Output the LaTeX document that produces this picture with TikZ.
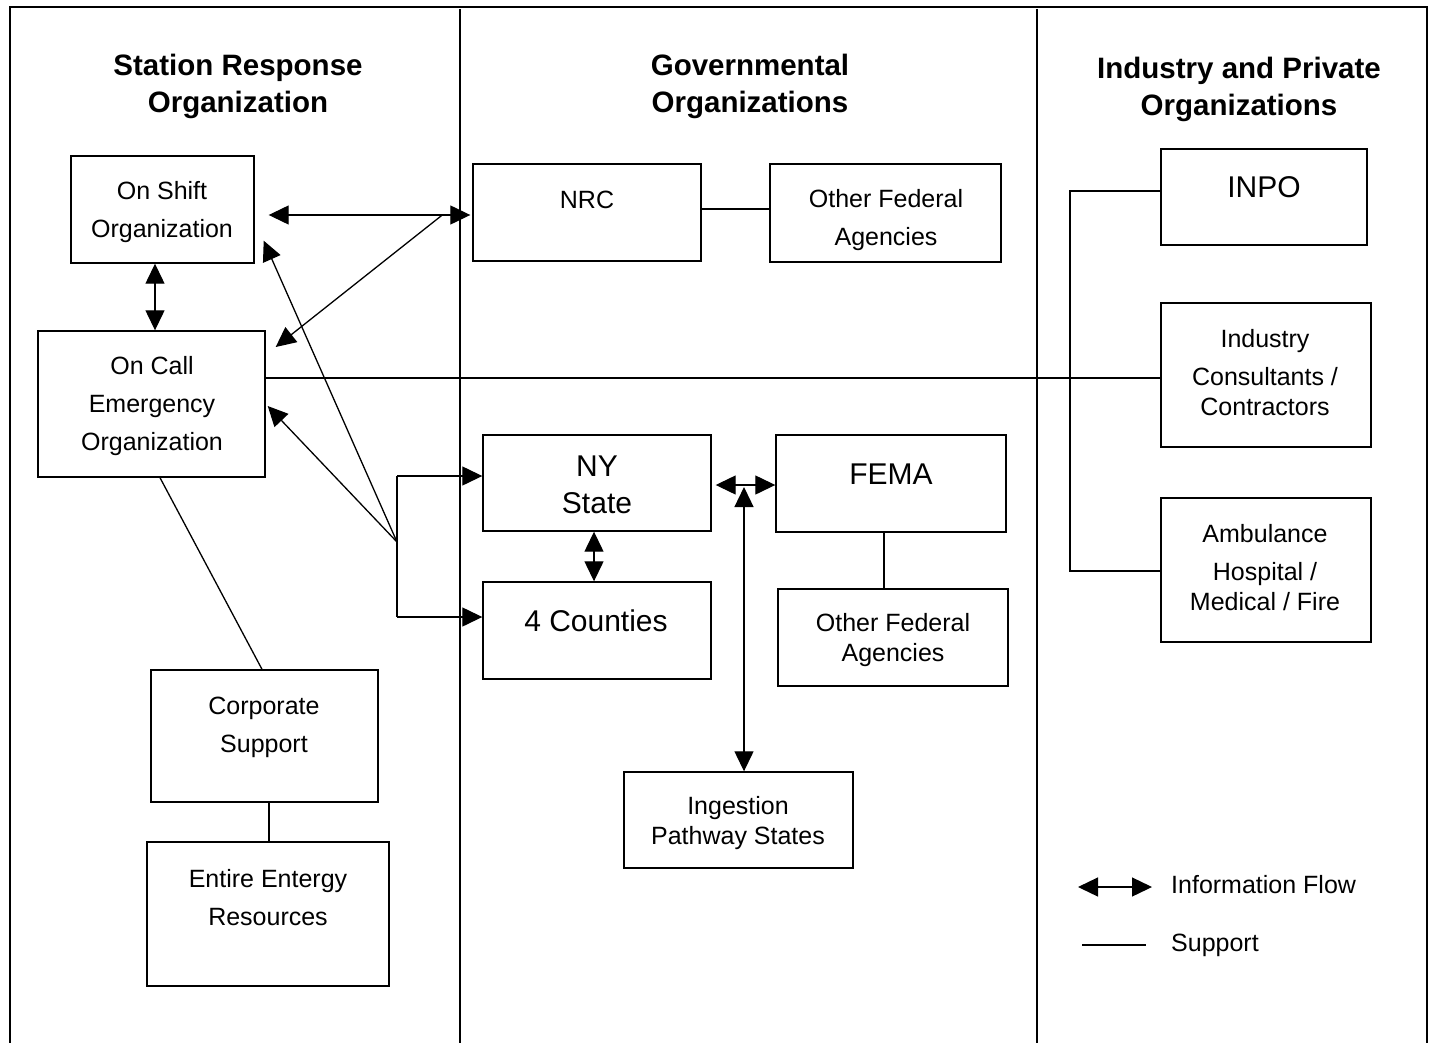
\documentclass[tikz,border=0pt]{standalone}
\usepackage{fontspec}
\setmainfont{Liberation Sans}
\usetikzlibrary{arrows.meta,calc}
\begin{document}
\begin{tikzpicture}[x=1pt,y=-1pt,
  box/.style={draw, line width=1.4pt, inner sep=0pt},
  lbl/.style={align=center, inner sep=0pt, font=\fontsize{25}{38}\selectfont},
  lblt/.style={align=center, inner sep=0pt, font=\fontsize{25}{30}\selectfont},
  big/.style={align=center, inner sep=0pt, font=\fontsize{30}{37}\selectfont},
  head/.style={align=center, inner sep=0pt, font=\fontsize{29.5}{37}\selectfont\bfseries},
  frame/.style={line width=1.1pt},
  sup/.style={line width=1.3pt},
  flow/.style={line width=1.3pt, -{Triangle[length=20pt,width=19pt]}},
  flow2/.style={line width=1.3pt, {Triangle[length=20pt,width=19pt]}-{Triangle[length=20pt,width=19pt]}}
]
\useasboundingbox (0,0) rectangle (1431,1043);
% frame
\coordinate (ftl) at (10,1043);
\coordinate (ftop1) at (10,7);
\coordinate (ftop2) at (1427,7);
\coordinate (fbr) at (1427,1043);
\draw[frame] (ftl) -- (ftop1) -- (ftop2) -- (fbr);
\coordinate (d1t) at (460,9); \coordinate (d1b) at (460,1043);
\coordinate (d2t) at (1037,9); \coordinate (d2b) at (1037,1043);
\draw[frame] (d1t) -- (d1b);
\draw[frame] (d2t) -- (d2b);

% headings
\node[head] (h1) at (238,86) {Station Response\\Organization};
\node[head] (h2) at (750,86) {Governmental\\Organizations};
\node[head] (h3) at (1239,89) {Industry and Private\\Organizations};

% boxes
\node[box, minimum width=183pt, minimum height=107pt] (onshift) at (162.5,209.5) {};
\node[box, minimum width=227pt, minimum height=146pt] (oncall) at (151.5,404) {};
\node[box, minimum width=227pt, minimum height=132pt] (corp) at (264.5,736) {};
\node[box, minimum width=242pt, minimum height=144pt] (entire) at (268,914) {};
\node[box, minimum width=228pt, minimum height=97pt] (nrc) at (587,212.5) {};
\node[box, minimum width=231pt, minimum height=98pt] (ofa1) at (885.5,213) {};
\node[box, minimum width=228pt, minimum height=96pt] (ny) at (597,483) {};
\node[box, minimum width=230pt, minimum height=97pt] (fema) at (891,483.5) {};
\node[box, minimum width=228pt, minimum height=97pt] (counties) at (597,630.5) {};
\node[box, minimum width=230pt, minimum height=97pt] (ofa2) at (893,637.5) {};
\node[box, minimum width=229pt, minimum height=96pt] (ingest) at (738.5,820) {};
\node[box, minimum width=206pt, minimum height=96pt] (inpo) at (1264,197) {};
\node[box, minimum width=210pt, minimum height=144pt] (cons) at (1266,375) {};
\node[box, minimum width=210pt, minimum height=144pt] (amb) at (1266,570) {};

% box texts
\node[lbl] (tonshift) at (162,212) {On Shift\\Organization};
\node[lbl] (toncall) at (152,406) {On Call\\Emergency\\Organization};
\node[lbl] (tcorp) at (264,727) {Corporate\\Support};
\node[lbl] (tentire) at (268,898) {Entire Entergy\\Resources};
\node[lbl] (tnrc) at (587,200) {NRC};
\node[lbl] (tofa1) at (886,220) {Other Federal\\Agencies};
\node[big] (tny) at (597,485) {NY\\State};
\node[big] (tfema) at (891,474) {FEMA};
\node[big] (tcounties) at (596,621) {4 Counties};
\node[lblt] (tofa2) at (893,640) {Other Federal\\Agencies};
\node[lblt] (tingest) at (738,823) {Ingestion\\Pathway States};
\node[big] (tinpo) at (1264,187) {INPO};
\node[lbl] (tcons) at (1265,373) {Industry\\Consultants /\\[-8pt]Contractors};
\node[lbl] (tamb) at (1265,568) {Ambulance\\Hospital /\\[-8pt]Medical / Fire};

% connectors
\draw[flow2] ([shift={(14,5.5)}]onshift.east) -- ([shift={(-2,2.5)}]nrc.west);
\coordinate (nrcin) at ([shift={(-30,2.5)}]nrc.west);
\draw[flow] (nrcin) -- ([shift={(10,-57)}]oncall.east);
\draw[flow2] ([xshift=-7.5pt]onshift.south) -- ([xshift=3.5pt]oncall.north);

\coordinate (jn) at (397,542);
\coordinate (jt) at (397,476);
\coordinate (jb) at (397,617);
\draw[sup] (jt) -- (jb);
\draw[flow] (jt) -- (jt -| ny.west);
\draw[flow] (jb) -- (jb -| counties.west);
\draw[flow] (jn) -- ([shift={(9,-23)}]onshift.south east);
\draw[flow] (jn) -- ([shift={(2,2)}]oncall.east);

\draw[sup] ([xshift=8.5pt]oncall.south) -- ([xshift=-2.5pt]corp.north);
\draw[sup] ([xshift=4.5pt]corp.south) -- ([xshift=1pt]entire.north);
\draw[sup] ([yshift=3.5pt]nrc.east) -- ([yshift=3.5pt]nrc.east -| ofa1.west);

\coordinate (y378) at (0,378);
\draw[sup] (oncall.east |- y378) -- (cons.west |- y378);
\coordinate (rb1) at (1070,191);
\coordinate (rb2) at (1070,571);
\draw[sup] (inpo.west |- rb1) -- (rb1) -- (rb2) -- (amb.west |- rb2);

\coordinate (nyf) at ([shift={(4,2)}]ny.east);
\draw[flow2] (nyf) -- (nyf -| fema.west);
\coordinate (iv) at (744,487);
\draw[flow2] (iv) -- (iv |- ingest.north);
\draw[flow2] ([xshift=-3pt]ny.south) -- ([xshift=-3pt]counties.north);
\draw[sup] ([xshift=-7pt]fema.south) -- ([xshift=-9pt]ofa2.north);

% legend
\coordinate (lg1a) at (1078,887);
\coordinate (lg1b) at (1152,887);
\draw[flow2] (lg1a) -- (lg1b);
\node[lbl, anchor=west] (lgt1) at (1171,885) {Information Flow};
\coordinate (lg2a) at (1082,945);
\coordinate (lg2b) at (1146,945);
\draw[sup] (lg2a) -- (lg2b);
\node[lbl, anchor=west] (lgt2) at (1171,945) {Support};
\end{tikzpicture}
\end{document}
